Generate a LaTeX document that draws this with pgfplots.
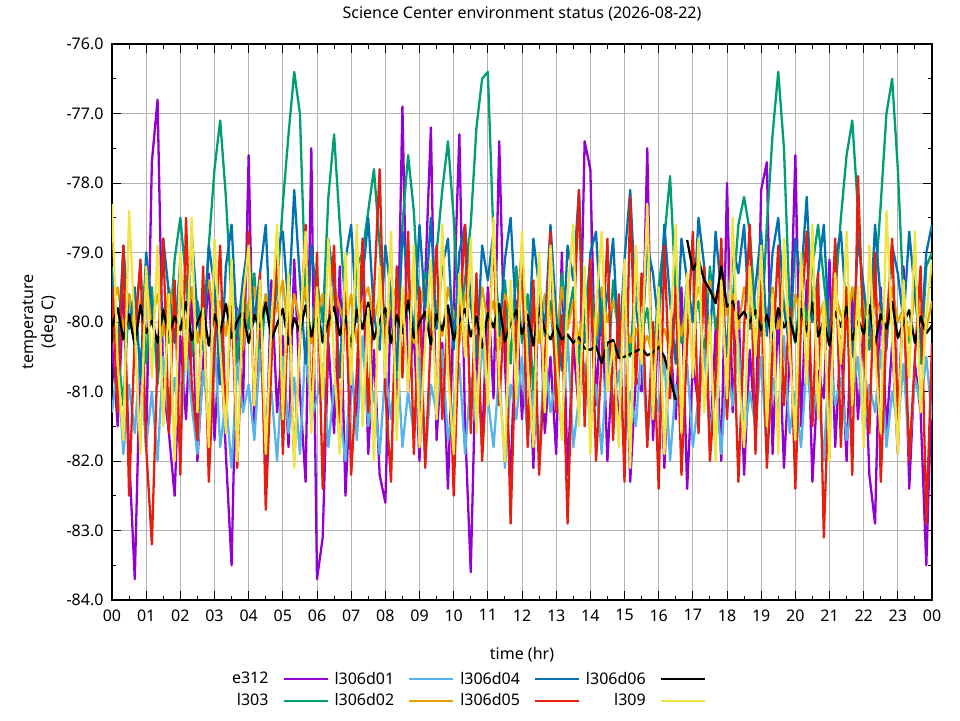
\documentclass[border=0pt]{standalone}
\usepackage{fontspec}
\setmainfont{Noto Sans}
\usepackage{pgfplots}
\usepackage{pgfplotstable}
\pgfplotsset{compat=1.18}
\definecolor{cE}{HTML}{9400D3}
\definecolor{cG}{HTML}{009E73}
\definecolor{cBa}{HTML}{56B4E9}
\definecolor{cO}{HTML}{E69F00}
\definecolor{cBb}{HTML}{0072B2}
\definecolor{cR}{HTML}{E51E10}
\definecolor{cK}{HTML}{000000}
\definecolor{cY}{HTML}{F0E442}

% e312
\pgfplotstableread[row sep=\\]{y\\
-80.3\\ -81.5\\ -79.6\\ -81.9\\ -83.7\\ -80.4\\ -81.8\\ -77.7\\ -76.8\\ -80.9\\ -81.6\\ -82.5\\
-80.2\\ -81.4\\ -79.5\\ -82.0\\ -80.6\\ -79.3\\ -81.7\\ -80.1\\ -81.9\\ -83.5\\ -79.8\\ -81.2\\
-77.6\\ -81.5\\ -80.0\\ -82.1\\ -79.4\\ -81.3\\ -80.2\\ -81.8\\ -79.1\\ -81.0\\ -82.3\\ -77.5\\
-83.7\\ -83.1\\ -80.3\\ -81.6\\ -79.2\\ -82.5\\ -80.7\\ -81.4\\ -79.0\\ -81.9\\ -80.4\\ -82.2\\
-82.6\\ -79.6\\ -81.2\\ -76.9\\ -81.0\\ -80.1\\ -82.0\\ -79.4\\ -77.2\\ -81.7\\ -80.3\\ -82.4\\
-79.8\\ -77.3\\ -81.5\\ -83.6\\ -80.2\\ -81.8\\ -79.5\\ -81.1\\ -77.4\\ -80.6\\ -82.3\\ -79.7\\
-81.4\\ -80.0\\ -82.1\\ -79.3\\ -81.6\\ -80.5\\ -81.9\\ -79.0\\ -82.2\\ -80.3\\ -81.3\\ -77.4\\
-77.8\\ -81.2\\ -79.6\\ -82.0\\ -80.4\\ -81.5\\ -79.2\\ -82.3\\ -80.8\\ -81.0\\ -77.5\\ -81.7\\
-79.9\\ -82.1\\ -80.2\\ -81.4\\ -79.5\\ -82.4\\ -80.6\\ -81.2\\ -79.3\\ -81.8\\ -80.1\\ -82.0\\
-78.0\\ -81.3\\ -79.7\\ -82.2\\ -80.4\\ -81.6\\ -78.1\\ -77.7\\ -81.9\\ -79.8\\ -82.1\\ -80.5\\
-77.6\\ -81.5\\ -79.4\\ -82.3\\ -80.7\\ -81.1\\ -79.1\\ -81.8\\ -80.2\\ -82.0\\ -79.6\\ -81.4\\
-80.0\\ -82.2\\ -82.9\\ -79.5\\ -81.6\\ -80.3\\ -81.9\\ -79.2\\ -82.4\\ -80.6\\ -81.3\\ -83.5\\ -80.8\\
}\tE
% l303
\pgfplotstableread[row sep=\\]{y\\
-79.3\\ -80.4\\ -81.2\\ -79.6\\ -80.1\\ -79.2\\ -80.6\\ -79.5\\ -80.9\\ -79.8\\ -80.3\\ -79.1\\
-78.5\\ -79.4\\ -80.5\\ -79.7\\ -80.2\\ -78.9\\ -77.8\\ -77.1\\ -78.2\\ -79.7\\ -80.6\\ -79.5\\
-80.1\\ -79.3\\ -80.7\\ -79.6\\ -80.2\\ -79.5\\ -78.3\\ -77.3\\ -76.4\\ -77.0\\ -79.6\\ -80.3\\
-79.4\\ -80.0\\ -78.2\\ -77.3\\ -78.6\\ -79.8\\ -80.5\\ -79.2\\ -79.0\\ -78.4\\ -77.8\\ -78.9\\
-80.2\\ -79.5\\ -80.8\\ -78.6\\ -77.6\\ -78.4\\ -79.9\\ -79.3\\ -80.4\\ -79.0\\ -78.1\\ -77.4\\
-78.5\\ -80.0\\ -79.4\\ -78.6\\ -77.2\\ -76.5\\ -76.4\\ -78.8\\ -80.1\\ -79.4\\ -80.6\\ -79.2\\
-80.3\\ -79.6\\ -81.0\\ -79.4\\ -80.2\\ -79.7\\ -80.8\\ -79.3\\ -80.0\\ -79.5\\ -80.6\\ -79.8\\
-79.2\\ -80.4\\ -79.6\\ -80.9\\ -79.4\\ -80.1\\ -79.7\\ -80.5\\ -79.3\\ -80.2\\ -79.8\\ -80.6\\
-79.5\\ -78.8\\ -77.9\\ -79.6\\ -80.3\\ -79.4\\ -80.0\\ -79.7\\ -80.5\\ -79.2\\ -80.1\\ -79.6\\
-80.4\\ -79.7\\ -78.6\\ -78.2\\ -78.7\\ -79.9\\ -80.2\\ -78.6\\ -77.3\\ -76.4\\ -77.5\\ -79.8\\
-80.3\\ -79.5\\ -80.0\\ -79.2\\ -78.6\\ -79.4\\ -80.2\\ -79.6\\ -78.5\\ -77.6\\ -77.1\\ -78.4\\
-79.9\\ -80.4\\ -79.5\\ -78.3\\ -77.0\\ -76.5\\ -77.8\\ -79.7\\ -80.3\\ -79.5\\ -80.6\\ -79.2\\ -79.0\\
}\tG
% l306d01
\pgfplotstableread[row sep=\\]{y\\
-81.3\\ -80.6\\ -81.9\\ -80.9\\ -81.6\\ -80.4\\ -81.8\\ -81.0\\ -82.0\\ -80.5\\ -81.5\\ -80.8\\
-81.7\\ -80.3\\ -81.2\\ -81.9\\ -80.7\\ -81.4\\ -80.2\\ -81.8\\ -81.1\\ -82.1\\ -80.6\\ -81.3\\
-80.9\\ -81.7\\ -80.4\\ -81.5\\ -81.0\\ -82.0\\ -80.5\\ -81.6\\ -80.8\\ -81.9\\ -80.3\\ -81.4\\
-81.1\\ -80.6\\ -81.8\\ -80.9\\ -81.3\\ -82.0\\ -80.5\\ -81.7\\ -80.2\\ -81.5\\ -81.0\\ -81.9\\
-80.7\\ -81.4\\ -80.3\\ -81.8\\ -81.0\\ -81.6\\ -80.5\\ -82.0\\ -80.9\\ -81.3\\ -80.4\\ -81.7\\
-81.2\\ -80.6\\ -81.9\\ -80.8\\ -81.5\\ -80.3\\ -81.1\\ -81.8\\ -80.7\\ -82.1\\ -80.9\\ -81.4\\
-80.5\\ -81.7\\ -81.0\\ -81.9\\ -80.4\\ -81.3\\ -80.8\\ -81.6\\ -80.2\\ -81.8\\ -81.1\\ -80.6\\
-81.5\\ -80.9\\ -81.9\\ -80.4\\ -81.2\\ -80.7\\ -81.8\\ -81.0\\ -81.5\\ -80.3\\ -81.7\\ -80.8\\
-81.3\\ -80.5\\ -82.0\\ -80.9\\ -81.4\\ -80.6\\ -81.8\\ -81.1\\ -80.4\\ -81.6\\ -80.9\\ -81.9\\
-80.6\\ -81.2\\ -80.3\\ -81.7\\ -81.0\\ -81.5\\ -80.5\\ -81.9\\ -80.8\\ -81.3\\ -80.2\\ -81.6\\
-81.0\\ -81.8\\ -80.6\\ -81.4\\ -80.9\\ -82.0\\ -80.4\\ -81.2\\ -80.8\\ -81.7\\ -81.1\\ -80.5\\
-81.6\\ -80.9\\ -81.3\\ -80.4\\ -81.8\\ -81.0\\ -81.5\\ -80.6\\ -81.9\\ -80.8\\ -81.2\\ -80.5\\ -81.4\\
}\tBa
% l306d02
\pgfplotstableread[row sep=\\]{y\\
-79.8\\ -79.5\\ -80.1\\ -79.6\\ -80.3\\ -79.7\\ -79.4\\ -80.0\\ -79.6\\ -80.2\\ -79.5\\ -79.9\\
-79.6\\ -80.1\\ -79.5\\ -80.3\\ -79.8\\ -79.4\\ -80.0\\ -79.7\\ -80.2\\ -79.5\\ -79.9\\ -80.4\\
-79.7\\ -79.5\\ -80.1\\ -79.6\\ -80.0\\ -79.8\\ -79.4\\ -80.2\\ -79.6\\ -80.0\\ -79.5\\ -80.3\\
-79.9\\ -79.6\\ -80.2\\ -79.5\\ -79.8\\ -80.1\\ -79.6\\ -80.3\\ -79.7\\ -79.5\\ -80.0\\ -79.6\\
-80.2\\ -79.7\\ -79.5\\ -80.1\\ -79.6\\ -80.3\\ -79.8\\ -79.4\\ -80.0\\ -79.7\\ -80.2\\ -79.5\\
-79.9\\ -80.3\\ -79.6\\ -79.8\\ -80.1\\ -79.5\\ -80.0\\ -79.7\\ -80.4\\ -79.6\\ -79.9\\ -80.2\\
-79.5\\ -80.0\\ -79.7\\ -80.3\\ -79.6\\ -79.9\\ -80.2\\ -79.5\\ -80.1\\ -79.7\\ -80.3\\ -79.6\\
-79.8\\ -80.2\\ -79.5\\ -80.0\\ -79.7\\ -80.1\\ -79.9\\ -80.3\\ -80.1\\ -80.4\\ -80.2\\ -80.5\\
-80.3\\ -80.1\\ -80.4\\ -79.8\\ -80.2\\ -79.7\\ -79.9\\ -79.5\\ -79.8\\ -79.4\\ -79.7\\ -79.5\\
-79.9\\ -79.6\\ -80.1\\ -79.5\\ -79.8\\ -80.2\\ -79.6\\ -79.9\\ -79.5\\ -80.1\\ -79.7\\ -80.3\\
-79.6\\ -79.9\\ -80.2\\ -79.5\\ -80.0\\ -79.7\\ -80.3\\ -79.6\\ -79.9\\ -80.1\\ -79.5\\ -80.0\\
-79.7\\ -80.2\\ -79.6\\ -79.9\\ -80.3\\ -79.5\\ -80.0\\ -79.8\\ -80.2\\ -79.6\\ -79.9\\ -80.1\\ -79.7\\
}\tO
% l306d04
\pgfplotstableread[row sep=\\]{y\\
-79.2\\ -80.5\\ -78.9\\ -80.1\\ -79.5\\ -80.8\\ -79.0\\ -79.8\\ -80.6\\ -78.8\\ -79.6\\ -80.3\\
-79.1\\ -80.7\\ -78.7\\ -79.9\\ -80.4\\ -78.9\\ -79.5\\ -80.9\\ -79.2\\ -78.6\\ -80.2\\ -79.4\\
-78.8\\ -80.0\\ -79.3\\ -78.6\\ -80.5\\ -79.0\\ -78.7\\ -79.8\\ -78.1\\ -79.4\\ -80.6\\ -78.9\\
-79.7\\ -80.3\\ -78.8\\ -79.5\\ -80.8\\ -79.1\\ -78.6\\ -80.0\\ -79.4\\ -78.5\\ -79.9\\ -80.4\\
-78.9\\ -79.6\\ -80.7\\ -78.7\\ -79.3\\ -80.2\\ -78.6\\ -79.8\\ -78.5\\ -80.1\\ -79.2\\ -78.8\\
-80.4\\ -79.0\\ -78.6\\ -79.7\\ -80.5\\ -78.9\\ -79.4\\ -78.7\\ -80.2\\ -79.1\\ -78.5\\ -80.0\\
-79.3\\ -80.6\\ -78.8\\ -79.5\\ -80.1\\ -78.6\\ -79.9\\ -80.7\\ -78.9\\ -79.4\\ -78.1\\ -80.3\\
-79.0\\ -78.7\\ -80.2\\ -79.6\\ -78.8\\ -80.5\\ -79.1\\ -78.1\\ -79.8\\ -80.4\\ -78.9\\ -79.3\\
-80.1\\ -78.6\\ -79.7\\ -80.6\\ -78.8\\ -79.4\\ -80.0\\ -78.5\\ -79.2\\ -80.3\\ -78.7\\ -79.6\\
-80.5\\ -78.9\\ -79.3\\ -78.6\\ -80.1\\ -79.5\\ -78.7\\ -80.2\\ -79.0\\ -78.5\\ -79.8\\ -80.4\\
-78.8\\ -79.4\\ -78.2\\ -80.0\\ -79.3\\ -78.6\\ -80.3\\ -79.1\\ -78.7\\ -79.9\\ -80.5\\ -78.8\\
-79.5\\ -80.2\\ -78.6\\ -79.7\\ -80.4\\ -78.9\\ -79.3\\ -80.0\\ -78.7\\ -79.6\\ -80.3\\ -79.0\\ -78.6\\
}\tBb
% l306d05
\pgfplotstableread[row sep=\\]{y\\
-79.5\\ -81.3\\ -78.9\\ -82.5\\ -80.2\\ -79.1\\ -81.8\\ -83.2\\ -80.5\\ -78.8\\ -81.6\\ -79.4\\
-82.2\\ -78.5\\ -80.9\\ -81.7\\ -79.2\\ -82.3\\ -80.4\\ -78.9\\ -81.5\\ -79.6\\ -82.1\\ -80.0\\
-78.7\\ -81.2\\ -79.3\\ -82.7\\ -80.6\\ -78.8\\ -81.9\\ -79.7\\ -82.0\\ -80.3\\ -78.6\\ -81.4\\
-79.0\\ -82.4\\ -80.1\\ -78.9\\ -81.7\\ -79.5\\ -82.2\\ -80.7\\ -78.8\\ -81.3\\ -79.6\\ -77.8\\
-81.0\\ -82.3\\ -79.2\\ -80.8\\ -78.7\\ -81.9\\ -79.5\\ -82.1\\ -80.2\\ -78.9\\ -81.4\\ -79.8\\
-82.5\\ -80.0\\ -78.6\\ -81.6\\ -79.3\\ -82.0\\ -80.4\\ -78.8\\ -81.2\\ -79.7\\ -82.9\\ -80.1\\
-78.9\\ -81.8\\ -79.4\\ -82.2\\ -80.6\\ -78.7\\ -81.3\\ -79.9\\ -82.9\\ -80.2\\ -78.1\\ -81.5\\
-79.1\\ -82.0\\ -80.5\\ -78.8\\ -81.7\\ -79.6\\ -82.3\\ -78.2\\ -80.9\\ -79.3\\ -81.8\\ -80.0\\
-82.4\\ -78.9\\ -81.1\\ -79.5\\ -82.2\\ -80.3\\ -78.7\\ -81.6\\ -79.2\\ -82.0\\ -80.8\\ -78.8\\
-81.4\\ -79.7\\ -82.3\\ -80.1\\ -78.6\\ -81.9\\ -79.4\\ -82.1\\ -80.5\\ -78.9\\ -81.2\\ -79.8\\
-82.4\\ -80.0\\ -78.7\\ -81.5\\ -79.3\\ -83.1\\ -80.6\\ -78.8\\ -81.8\\ -79.5\\ -82.2\\ -77.9\\
-80.4\\ -81.6\\ -79.0\\ -82.3\\ -80.1\\ -78.8\\ -81.4\\ -79.6\\ -82.0\\ -80.5\\ -79.2\\ -82.9\\ -80.3\\
}\tR
% l306d06
\pgfplotstableread[row sep=\\]{y\\
-80.07\\ -79.80\\ -80.25\\ -79.89\\ -80.34\\ -79.76\\ -80.16\\ -79.98\\ -80.30\\ -79.83\\ -80.19\\ -79.92\\
-80.12\\ -79.71\\ -80.26\\ -80.01\\ -79.80\\ -80.34\\ -79.89\\ -80.16\\ -79.74\\ -80.23\\ -79.98\\ -79.85\\
-80.30\\ -79.90\\ -80.08\\ -79.72\\ -80.25\\ -80.03\\ -79.81\\ -80.32\\ -79.94\\ -80.14\\ -79.76\\ -80.21\\
-79.87\\ -80.28\\ -79.99\\ -79.78\\ -80.19\\ -79.92\\ -80.35\\ -79.83\\ -80.10\\ -79.72\\ -80.25\\ -79.98\\
-79.80\\ -80.30\\ -79.90\\ -80.16\\ -79.69\\ -80.23\\ -80.01\\ -79.85\\ -80.32\\ -79.89\\ -80.12\\ -79.76\\
-80.26\\ -79.99\\ -79.81\\ -80.21\\ -79.92\\ -80.37\\ -79.87\\ -80.08\\ -79.74\\ -80.28\\ -80.03\\ -79.83\\
-80.17\\ -79.90\\ -80.34\\ -79.80\\ -80.12\\ -80.25\\ -80.05\\ -80.25\\ -80.18\\ -80.30\\ -80.22\\ -80.38\\
-80.40\\ -80.35\\ -80.59\\ -80.30\\ -80.26\\ -80.52\\ -80.50\\ -80.46\\ -80.42\\ -80.38\\ -80.48\\ -80.44\\
-80.36\\ -80.50\\ -80.80\\ -81.12\\ nan\\ -78.82\\ -79.25\\ -79.10\\ -79.40\\ -79.54\\ -79.73\\ -79.20\\
-79.78\\ -79.70\\ -79.95\\ -79.85\\ -80.01\\ -79.83\\ -80.12\\ -79.90\\ -80.23\\ -79.80\\ -80.08\\ -79.94\\
-80.28\\ -79.81\\ -80.14\\ -79.72\\ -80.21\\ -79.98\\ -80.34\\ -79.85\\ -80.07\\ -79.78\\ -80.26\\ -79.96\\
-80.17\\ -79.76\\ -80.32\\ -79.89\\ -80.10\\ -79.71\\ -80.23\\ -80.01\\ -79.83\\ -80.30\\ -79.92\\ -80.16\\ -80.05\\
}\tK
% l309
\pgfplotstableread[row sep=\\]{y\\
-78.3\\ -80.6\\ -81.7\\ -78.4\\ -80.1\\ -81.9\\ -79.2\\ -80.8\\ -78.9\\ -81.5\\ -79.6\\ -82.0\\
-79.0\\ -80.7\\ -78.5\\ -81.3\\ -79.8\\ -81.8\\ -78.8\\ -80.4\\ -81.6\\ -79.1\\ -82.0\\ -79.7\\
-78.9\\ -81.2\\ -79.4\\ -81.9\\ -80.0\\ -78.6\\ -81.4\\ -79.3\\ -82.1\\ -80.2\\ -78.7\\ -81.6\\
-79.5\\ -81.1\\ -78.8\\ -80.6\\ -81.9\\ -79.0\\ -80.9\\ -78.6\\ -81.5\\ -79.8\\ -82.0\\ -79.2\\
-80.8\\ -78.7\\ -81.7\\ -79.5\\ -81.0\\ -78.9\\ -81.8\\ -80.3\\ -79.1\\ -81.4\\ -78.6\\ -80.7\\
-81.9\\ -79.3\\ -80.5\\ -78.8\\ -81.6\\ -79.7\\ -81.2\\ -78.5\\ -80.9\\ -82.0\\ -79.4\\ -81.1\\
-78.7\\ -80.6\\ -81.8\\ -79.0\\ -81.3\\ -78.9\\ -80.4\\ -81.7\\ -79.6\\ -78.6\\ -81.5\\ -79.2\\
-81.9\\ -79.8\\ -78.7\\ -81.0\\ -80.3\\ -81.8\\ -79.1\\ -82.1\\ -78.9\\ -80.6\\ -78.3\\ -81.4\\
-79.5\\ -81.9\\ -80.2\\ -78.6\\ -81.6\\ -79.3\\ -80.8\\ -78.8\\ -81.3\\ -79.9\\ -82.0\\ -79.4\\
-81.1\\ -78.5\\ -80.7\\ -81.8\\ -79.2\\ -80.5\\ -78.9\\ -81.5\\ -79.6\\ -81.9\\ -78.8\\ -80.4\\
-81.7\\ -79.0\\ -80.9\\ -78.6\\ -81.4\\ -79.7\\ -82.0\\ -79.3\\ -80.6\\ -78.7\\ -81.2\\ -79.5\\
-81.8\\ -78.9\\ -80.5\\ -81.6\\ -78.4\\ -80.2\\ -81.9\\ -79.4\\ -80.8\\ -78.7\\ -81.3\\ -79.9\\ -79.1\\
}\tY

\begin{document}
\fontsize{16pt}{20pt}\selectfont
\begin{tikzpicture}
\path[use as bounding box] (-112pt,-120pt) rectangle (848pt,600pt);
\begin{axis}[
  at={(0pt,0pt)}, anchor=south west,
  width=820pt, height=556pt, scale only axis,
  xmin=0, xmax=144, ymin=-84, ymax=-76,
  xtick={0,6,...,144},
  xticklabels={00,01,02,03,04,05,06,07,08,09,10,11,12,13,14,15,16,17,18,19,20,21,22,23,00},
  ytick={-84,-83,...,-76},
  yticklabels={-84.0,-83.0,-82.0,-81.0,-80.0,-79.0,-78.0,-77.0,-76.0},
  minor x tick num=1, minor y tick num=1,
  tick align=inside,
  major tick length=9pt, minor tick length=4.5pt,
  every tick/.style={black, line width=1pt},
  axis line style={line width=1.2pt},
  grid=major,
  major grid style={color=black!30, line width=0.9pt},
  unbounded coords=jump,
  title={Science Center environment status (2026-08-22)},
  every axis title/.style={at={(axis description cs:0.5,1.0548)}, anchor=center},
  xlabel={time (hr)},
  every axis x label/.style={at={(axis description cs:0.5,-0.0989)}, anchor=center},
  ylabel={temperature\\(deg C)},
  every axis y label/.style={at={(axis description cs:-0.0878,0.5)}, anchor=center, rotate=90, align=center},
  xticklabel style={yshift=-4pt},
  yticklabel style={xshift=-3pt},
  legend style={at={(axis description cs:0.434,-0.122)}, anchor=north, draw=none, fill=none,
    legend columns=4, row sep=3pt,
    nodes={inner sep=2pt},
    /tikz/every odd column/.append style={column sep=12pt},
    /tikz/every even column/.append style={column sep=4pt}},
  legend plot pos=right,
  legend cell align=right,
  legend image code/.code={\draw[#1] (0pt,0pt) -- (44pt,0pt);},
  every axis plot/.append style={line width=2.3pt, line join=round},
]
\addplot[cE, forget plot] table[x expr=\coordindex, y=y] {\tE};
\addplot[cG, forget plot] table[x expr=\coordindex, y=y] {\tG};
\addplot[cBa, forget plot] table[x expr=\coordindex, y=y] {\tBa};
\addplot[cO, forget plot] table[x expr=\coordindex, y=y] {\tO};
\addplot[cBb, forget plot] table[x expr=\coordindex, y=y] {\tBb};
\addplot[cR, forget plot] table[x expr=\coordindex, y=y] {\tR};
\addplot[cK, forget plot] table[x expr=\coordindex, y=y] {\tK};
\addplot[cY, forget plot] table[x expr=\coordindex, y=y] {\tY};
\addlegendimage{cE, line width=2pt}\addlegendentry{e312}
\addlegendimage{cBa, line width=2pt}\addlegendentry{l306d01}
\addlegendimage{cBb, line width=2pt}\addlegendentry{l306d04}
\addlegendimage{cK, line width=2pt}\addlegendentry{l306d06}
\addlegendimage{cG, line width=2pt}\addlegendentry{l303}
\addlegendimage{cO, line width=2pt}\addlegendentry{l306d02}
\addlegendimage{cR, line width=2pt}\addlegendentry{l306d05}
\addlegendimage{cY, line width=2pt}\addlegendentry{l309}
\end{axis}
\end{tikzpicture}
\end{document}
